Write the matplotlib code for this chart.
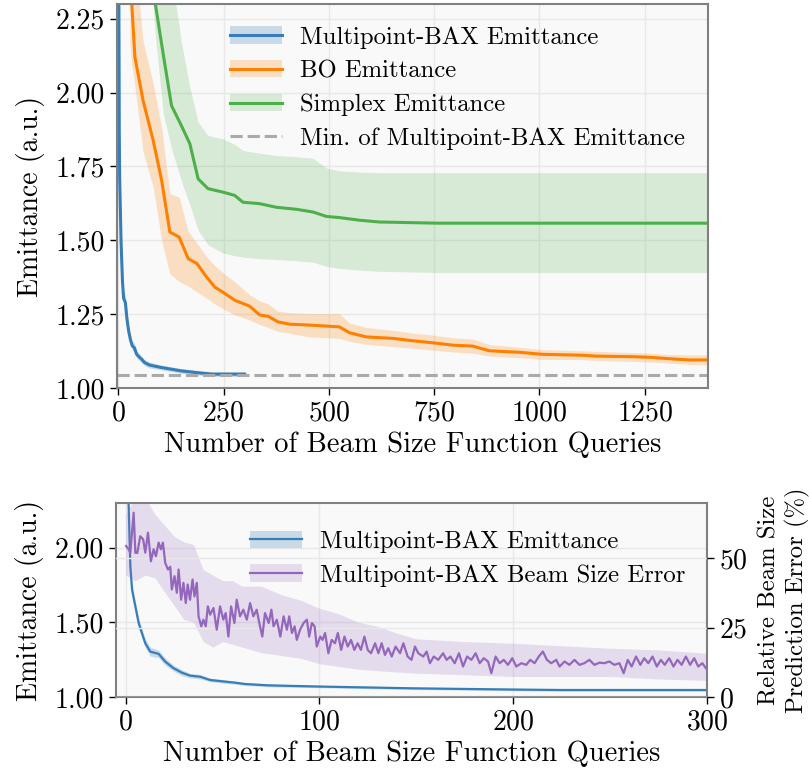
import matplotlib
matplotlib.use("Agg")
import numpy as np
import matplotlib.pyplot as plt
from matplotlib.patches import Patch
from matplotlib.lines import Line2D

plt.rcParams["font.family"] = "serif"
plt.rcParams["font.serif"] = ["cmr10"]
plt.rcParams["mathtext.fontset"] = "cm"
plt.rcParams["axes.formatter.use_mathtext"] = True

# ---- data ----
# Multipoint-BAX emittance (shared by both panels)
bax_x = [0, 1.5, 2.4, 3.3, 5, 6.7, 8.4, 10.1, 12.7, 17, 20.4, 24.7, 29, 33.3, 38.4,
         43.6, 51.3, 56.5, 61.6, 73.6, 100, 149, 200, 224, 300]
bax_y = [2.6, 2.29, 1.875, 1.718, 1.606, 1.495, 1.427, 1.36, 1.304, 1.289, 1.237,
         1.193, 1.163, 1.143, 1.136, 1.114, 1.103, 1.096, 1.087, 1.078, 1.07, 1.058,
         1.05, 1.047, 1.047]
bax_spread = [0.05, 0.05, 0.04, 0.04, 0.035, 0.035, 0.03, 0.03, 0.03, 0.025, 0.025,
              0.02, 0.02, 0.015, 0.015, 0.012, 0.012, 0.01, 0.01, 0.01, 0.008, 0.008,
              0.008, 0.008, 0.008]
bax_min = 1.045

# BO emittance
bo_x = [28, 31.7, 39.6, 59, 83, 103, 122.5, 144.6, 166, 187, 209.5, 229, 253, 276.6,
        312, 336, 355.6, 379, 407, 454, 525, 549, 589, 652, 699, 747, 794, 841, 881,
        952, 1007, 1102, 1134, 1220, 1262, 1300, 1355, 1400]
bo_y = [2.4, 2.31, 2.12, 1.973, 1.838, 1.703, 1.528, 1.511, 1.438, 1.421, 1.376,
        1.342, 1.32, 1.297, 1.277, 1.247, 1.243, 1.224, 1.216, 1.213, 1.207, 1.187,
        1.173, 1.168, 1.16, 1.153, 1.145, 1.142, 1.126, 1.121, 1.114, 1.111, 1.108,
        1.106, 1.104, 1.100, 1.095, 1.095]
bo_lo = [2.16, 2.1, 2.02, 1.80, 1.68, 1.50, 1.387, 1.36, 1.345, 1.325, 1.305, 1.285,
         1.265, 1.248, 1.23, 1.215, 1.205, 1.192, 1.185, 1.173, 1.168, 1.158, 1.148,
         1.140, 1.135, 1.128, 1.122, 1.118, 1.108, 1.103, 1.097, 1.096, 1.093, 1.09,
         1.088, 1.085, 1.08, 1.078]
bo_hi = [2.65, 2.58, 2.45, 2.175, 2.03, 1.88, 1.658, 1.646, 1.53, 1.49, 1.445, 1.415,
         1.385, 1.36, 1.315, 1.295, 1.285, 1.26, 1.255, 1.252, 1.252, 1.22, 1.205,
         1.195, 1.186, 1.179, 1.17, 1.166, 1.147, 1.138, 1.13, 1.126, 1.124, 1.12,
         1.118, 1.114, 1.112, 1.112]

# Simplex emittance
sx_x = [80, 87, 106.7, 126.5, 150, 170, 189.7, 213, 249, 276.6, 296, 336, 375, 423,
        462, 494, 525, 573, 620, 762, 1400]
sx_y = [2.37, 2.31, 2.131, 1.956, 1.888, 1.827, 1.708, 1.675, 1.663, 1.652, 1.629,
        1.624, 1.612, 1.605, 1.596, 1.581, 1.577, 1.568, 1.562, 1.558, 1.558]
sx_lo = [2.35, 2.21, 1.93, 1.81, 1.70, 1.62, 1.534, 1.485, 1.457, 1.448, 1.443, 1.438,
         1.435, 1.431, 1.426, 1.412, 1.405, 1.399, 1.395, 1.391, 1.391]
sx_hi = [2.6, 2.6, 2.5, 2.4, 2.17, 2.018, 1.90, 1.855, 1.843, 1.825, 1.804, 1.795,
         1.787, 1.783, 1.778, 1.745, 1.735, 1.731, 1.729, 1.729, 1.729]

# Multipoint-BAX beam size prediction error (%)
err_x = [0.2, 1.5, 2.4, 4.1, 5, 6, 7.5, 9, 10.1, 11.5, 13, 14.4, 15.6, 17, 18.2, 19.2,
         20.4, 21.8, 23, 23.8, 25.2, 26.4, 27.3, 28.6, 29.8, 31, 32, 33.2, 34.5, 35.5,
         36.7, 37.6, 39, 40.1, 41.3, 42.4, 43.6, 45.3, 47, 48.7, 50.4, 51.6, 53, 54.4,
         56.1, 57.3, 59, 60.7, 62.5, 64.2, 65.9, 67.6, 69.3, 70.5, 71.9, 73.8, 75.2,
         76.3, 78, 79.8, 81.5, 83.2, 84.4, 85.8, 87.2, 88.3, 90, 91.8, 93.5, 94.7, 96.1,
         97.5, 98.6, 100.4, 101.6, 102.9, 104.6, 106.3, 108, 109.5, 111.2, 112.9, 114.6,
         116.3, 118, 119.7, 121.4, 123.2, 124.9, 126.6, 128.7, 130.4, 132.1, 133.8,
         135.5, 137.3, 139.3, 141.6, 143.3, 145.5, 147.5, 149.3, 151, 153.6, 155.3, 157,
         159, 161.3, 163.8, 165.6, 167.6, 169.8, 172, 174.1, 176.2, 178.4, 180.6, 182.7,
         184.8, 187, 188.7, 190.9, 193, 195.1, 197.3, 199.5, 201.6, 204.2, 206.7, 208.8,
         211, 213.2, 215.3, 217.4, 219.6, 222.2, 223.9, 226.5, 229, 231.6, 234.2, 236.7,
         239.3, 241.9, 244.5, 247, 249.6, 252.2, 254.8, 257, 259.1, 261.1, 263.4, 265.6,
         267.6, 269.7, 271.9, 274.1, 276.2, 278.2, 280.5, 282.7, 284.8, 286.9, 289.1,
         291.3, 293.4, 295.5, 297.6, 299.4]
err_y = [54.5, 53.3, 52.1, 66.5, 52, 52, 58, 56.9, 52.1, 59.3, 49, 53.3, 50.8, 55.7,
         53.3, 55.7, 48.4, 46, 47, 38.8, 43.6, 37.6, 46, 35.1, 41.2, 33.9, 40.6, 35.1,
         42.4, 36.3, 41.2, 29.1, 25.5, 27.9, 25.5, 32.7, 29.7, 32.1, 24.3, 32.7, 27.9,
         30.3, 21.8, 32.7, 26.7, 35.1, 29.1, 31.5, 27.9, 33.9, 29.1, 31.5, 25.5, 21.8,
         30.3, 26.7, 31.5, 25.5, 27.9, 21.8, 29.1, 24.3, 29.1, 23.1, 25.5, 20.6, 24.3,
         26.7, 27.9, 21.8, 26.7, 25.5, 18.2, 21.8, 20.6, 23.1, 15.8, 20.6, 19.4, 23.1,
         17, 21.8, 18.2, 20.6, 17, 19.4, 17, 21.8, 17, 15.8, 19.4, 15.8, 19.4, 15.2,
         17.6, 14.6, 18.2, 15.8, 19.4, 14.6, 13.4, 18.2, 15.8, 14.6, 16.4, 12.2, 14.6,
         13.4, 15.8, 13.4, 14.6, 12.2, 15.8, 11, 14.6, 13.4, 15.8, 12.2, 14, 12.8, 8.6,
         14.6, 12.2, 13.4, 11.6, 14, 11, 12.2, 11.6, 13.4, 12.2, 14.6, 16.4, 13.4, 12.2,
         13.4, 11, 12.8, 11.6, 13.4, 11.6, 12.2, 13.4, 11.6, 12.4, 12.2, 12.8, 11.6,
         12.2, 8.6, 13.4, 11, 14.6, 11.6, 14, 12.2, 14.6, 11, 13.4, 11.6, 14, 11, 13.4,
         11.6, 14.6, 11.6, 14, 11, 12.2, 10.4]
errband_x = [0, 5, 10, 15, 20, 25, 30, 35, 40, 45, 50, 55, 60, 70, 80, 90, 100, 110,
             120, 130, 140, 150, 175, 200, 225, 250, 275, 300]
errband_lo = [44, 42, 44, 43, 38, 33, 28, 27, 20, 18, 20, 19, 18, 16, 15, 14, 12, 11,
              10, 9.5, 9, 8.6, 8, 7.4, 7.4, 7.4, 6.5, 6]
errband_hi = [66, 72, 72, 66, 62, 58, 56, 55, 46, 44, 42, 42, 40, 40, 37, 35, 32, 30,
              27, 25.5, 23, 21, 20, 19.4, 18.5, 17.6, 17, 15.8]

BLUE = "#377eb8"
ORANGE = "#ff7f00"
GREEN = "#4daf4a"
PURPLE = "#9467bd"
GRAY = "#aaaaaa"
DASH = (0, (4, 1.6))

FS = 20
XFS = 20.6
LFS = 17.8


def style_axes(ax):
    ax.set_facecolor("#f9f9f9")
    ax.grid(True, color="#e8e8e8", lw=1)
    ax.set_axisbelow(True)
    for s in ax.spines.values():
        s.set_color("#808080")
        s.set_linewidth(1.5)
    ax.tick_params(direction="out", length=5, width=1, labelsize=FS, color="black")


fig = plt.figure(figsize=(8.09, 7.76), dpi=100)

# ---- top panel ----
ax = fig.add_axes([0.1446, 0.5, 0.7305, 0.4948])
style_axes(ax)

bax_lo = np.array(bax_y) - np.array(bax_spread)
bax_hi = np.array(bax_y) + np.array(bax_spread)

ax.fill_between(sx_x, sx_lo, sx_hi, color=GREEN, alpha=0.2, lw=0)
ax.fill_between(bo_x, bo_lo, bo_hi, color=ORANGE, alpha=0.22, lw=0)
ax.fill_between(bax_x, bax_lo, bax_hi, color=BLUE, alpha=0.25, lw=0)
ax.plot(sx_x, sx_y, color=GREEN, lw=2.2)
ax.plot(bo_x, bo_y, color=ORANGE, lw=2.2)
ax.plot(bax_x, bax_y, color=BLUE, lw=2.2)
ax.axhline(bax_min, color=GRAY, lw=2.2, ls=DASH)

ax.set_xlim(-3, 1400)
ax.set_ylim(1.0, 2.3)
ax.set_xticks([0, 250, 500, 750, 1000, 1250])
ax.set_yticks([1.0, 1.25, 1.5, 1.75, 2.0, 2.25])
ax.set_yticklabels(["%.2f" % v for v in [1.0, 1.25, 1.5, 1.75, 2.0, 2.25]])
ax.set_xlabel("Number of Beam Size Function Queries", fontsize=XFS)
ax.set_ylabel("Emittance (a.u.)", fontsize=FS, labelpad=8)

h_bax = (Patch(color=BLUE, alpha=0.25, lw=0), Line2D([], [], color=BLUE, lw=2.2))
h_bo = (Patch(color=ORANGE, alpha=0.22, lw=0), Line2D([], [], color=ORANGE, lw=2.2))
h_sx = (Patch(color=GREEN, alpha=0.2, lw=0), Line2D([], [], color=GREEN, lw=2.2))
h_min = Line2D([], [], color=GRAY, lw=2.2, ls=DASH)
ax.legend([h_bax, h_bo, h_sx, h_min],
          ["Multipoint-BAX Emittance", "BO Emittance", "Simplex Emittance",
           "Min. of Multipoint-BAX Emittance"],
          loc="upper left", bbox_to_anchor=(0.174, 0.968), frameon=False,
          fontsize=LFS, handlelength=2.1, handletextpad=0.75, labelspacing=0.46,
          borderaxespad=0)

# ---- bottom panel ----
axb = fig.add_axes([0.1434, 0.1018, 0.7305, 0.25])
style_axes(axb)
axb.fill_between(bax_x, bax_lo, bax_hi, color=BLUE, alpha=0.25, lw=0)
axb.plot(bax_x, bax_y, color=BLUE, lw=1.6)
axb.set_xlim(-5, 300)
axb.set_ylim(1.0, 2.3)
axb.set_xticks([0, 100, 200, 300])
axb.set_yticks([1.0, 1.5, 2.0])
axb.set_yticklabels(["1.00", "1.50", "2.00"])
axb.set_xlabel("Number of Beam Size Function Queries", fontsize=XFS)
axb.set_ylabel("Emittance (a.u.)", fontsize=FS, labelpad=8)

ax2 = axb.twinx()
ax2.grid(True, color="#e8e8e8", lw=1)
for s in ax2.spines.values():
    s.set_visible(False)
ax2.tick_params(direction="out", length=5, width=1, labelsize=FS, color="black")
ax2.fill_between(errband_x, errband_lo, errband_hi, color=PURPLE, alpha=0.2, lw=0)
ax2.plot(err_x, err_y, color=PURPLE, lw=1.6)
ax2.set_ylim(0, 70)
ax2.set_yticks([0, 25, 50])
ax2.set_ylabel("Relative Beam Size\nPrediction Error (%)", fontsize=LFS, labelpad=8)

h_bax2 = (Patch(color=BLUE, alpha=0.25, lw=0), Line2D([], [], color=BLUE, lw=1.6))
h_err = (Patch(color=PURPLE, alpha=0.2, lw=0), Line2D([], [], color=PURPLE, lw=1.6))
ax2.legend([h_bax2, h_err],
           ["Multipoint-BAX Emittance", "Multipoint-BAX Beam Size Error"],
           loc="upper left", bbox_to_anchor=(0.21, 0.91), frameon=False,
           fontsize=LFS, handlelength=2.1, handletextpad=0.75, labelspacing=0.46,
           borderaxespad=0)

fig.savefig("out.png", dpi=100)
